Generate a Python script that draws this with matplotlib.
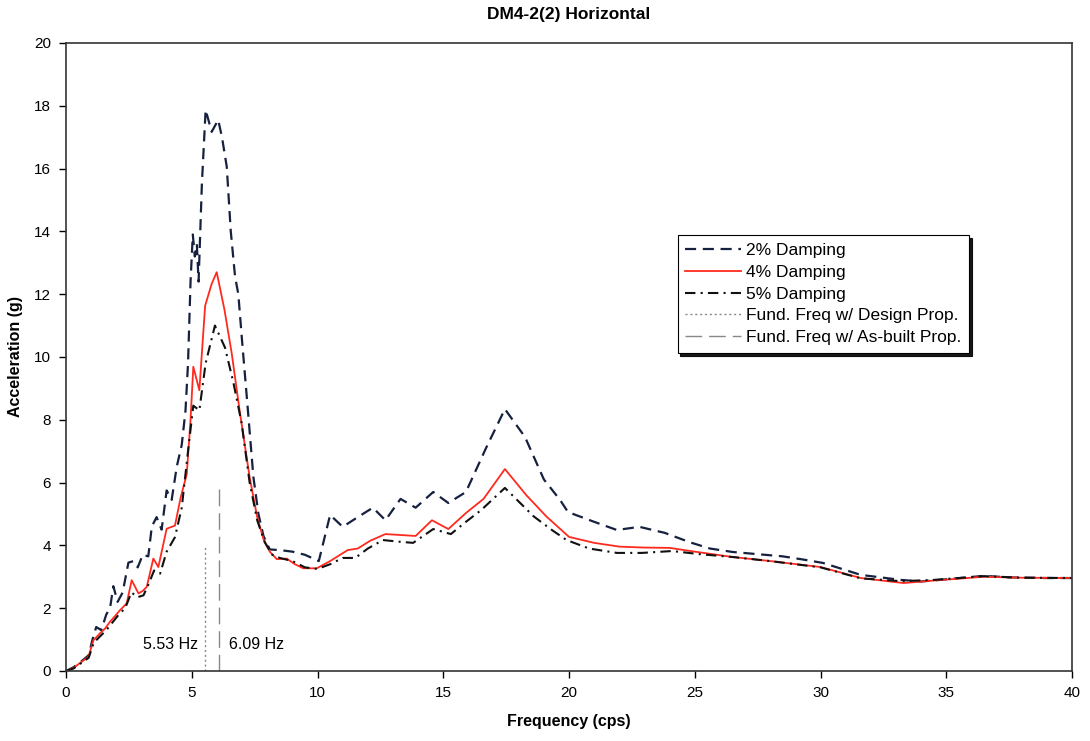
import matplotlib
matplotlib.use("Agg")
import matplotlib.pyplot as plt
from matplotlib import font_manager

# ---- data ----
freq_2 = [0, 0.3, 0.6, 0.9, 1.05, 1.2, 1.4, 1.6, 1.75, 1.88, 2.05, 2.25, 2.48, 2.68, 2.85,
          3.05, 3.27, 3.41, 3.6, 3.8, 4.0, 4.2, 4.4, 4.6, 4.75, 4.85, 4.95, 5.04, 5.12, 5.2,
          5.27, 5.4, 5.55, 5.79, 6.05, 6.2, 6.39, 6.55, 6.72, 6.85, 7.0, 7.2, 7.45, 7.65, 7.85,
          8.1, 8.5, 9.0, 9.5, 10.05, 10.5, 11.0, 11.6, 12.2, 12.7, 13.3, 13.9, 14.6, 15.2, 15.9,
          16.7, 17.45, 18.25, 19.0, 19.64, 19.96, 21.0, 21.9, 22.8, 23.8, 24.8, 25.6, 26.5, 27.5,
          28.5, 29.3, 30.1, 31.6, 33.2, 34.0, 35.0, 36.5, 37.5, 39.0, 40.0]
acc_2 = [0, 0.12, 0.3, 0.5, 1.0, 1.4, 1.3, 1.8, 2.0, 2.7, 2.2, 2.5, 3.45, 3.5, 3.3,
         3.7, 3.65, 4.6, 4.9, 4.5, 5.75, 5.45, 6.5, 7.2, 8.3, 9.8, 12.4, 13.9, 13.2, 13.6,
         12.4, 15.5, 17.87, 17.17, 17.55, 17.0, 16.06, 14.0, 12.56, 12.0, 10.5, 8.6, 6.17, 5.0, 4.3,
         3.87, 3.85, 3.8, 3.7, 3.5, 4.97, 4.59, 4.9, 5.2, 4.8, 5.48, 5.2, 5.7, 5.35, 5.7,
         7.1, 8.34, 7.45, 6.1, 5.45, 5.06, 4.75, 4.49, 4.59, 4.4, 4.1, 3.9, 3.79, 3.72,
         3.65, 3.55, 3.44, 3.06, 2.9, 2.85, 2.92, 3.03, 2.98, 2.96, 2.96]

freq_4 = [0, 0.3, 0.6, 0.89, 1.09, 1.35, 1.55, 1.75, 1.95, 2.15, 2.41, 2.61, 2.88, 3.05, 3.21,
          3.47, 3.67, 4.0, 4.33, 4.55, 4.8, 4.95, 5.06, 5.3, 5.53, 5.79, 5.99, 6.3, 6.59, 6.9,
          7.3, 7.6, 7.85, 8.1, 8.38, 8.77, 9.1, 9.43, 9.97, 10.5, 11.2, 11.6, 12.1, 12.7, 13.3,
          13.9, 14.55, 15.2, 15.9, 16.6, 17.45, 18.3, 19.1, 20.0, 21.0, 22.0, 23.0, 24.0, 25.0,
          26.5, 28.0, 30.0, 31.6, 33.3, 34.5, 36.5, 38.0, 40.0]
acc_4 = [0, 0.1, 0.28, 0.45, 0.98, 1.2, 1.35, 1.57, 1.75, 1.94, 2.15, 2.89, 2.47, 2.55, 2.68,
         3.58, 3.31, 4.53, 4.63, 5.5, 6.27, 8.0, 9.69, 8.94, 11.63, 12.33, 12.7, 11.5, 10.1, 8.3,
         6.17, 4.9, 4.2, 3.8, 3.56, 3.58, 3.4, 3.27, 3.27, 3.5, 3.85, 3.9, 4.15, 4.36, 4.33,
         4.3, 4.8, 4.52, 5.03, 5.48, 6.43, 5.6, 4.92, 4.27, 4.08, 3.96, 3.93, 3.92, 3.8,
         3.63, 3.5, 3.31, 2.96, 2.80, 2.88, 3.0, 2.97, 2.96]

freq_5 = [0, 0.3, 0.6, 0.9, 1.1, 1.35, 1.6, 1.85, 2.1, 2.35, 2.6, 2.85, 3.08, 3.3, 3.5,
          3.74, 4.0, 4.33, 4.6, 4.85, 5.06, 5.3, 5.55, 5.92, 6.32, 6.65, 6.98, 7.3, 7.6, 7.9,
          8.2, 8.5, 9.0, 9.5, 10.0, 10.5, 11.0, 11.5, 12.0, 12.6, 13.2, 13.8, 14.6, 15.3, 15.9,
          16.5, 17.45, 18.6, 19.3, 19.9, 20.8, 21.9, 22.9, 24.1, 25.2, 26.5, 28.0, 30.0, 31.6,
          33.2, 34.5, 36.5, 38.0, 40.0]
acc_5 = [0, 0.08, 0.25, 0.42, 0.9, 1.1, 1.3, 1.55, 1.8, 2.0, 2.5, 2.35, 2.41, 2.8, 3.2,
         3.1, 3.8, 4.26, 5.2, 7.0, 8.45, 8.3, 9.8, 11.0, 10.3, 9.2, 7.9, 6.0, 4.8, 4.1,
         3.7, 3.6, 3.5, 3.3, 3.25, 3.4, 3.6, 3.6, 3.9, 4.17, 4.12, 4.08, 4.52, 4.36, 4.75,
         5.12, 5.83, 4.92, 4.5, 4.17, 3.9, 3.76, 3.76, 3.82, 3.72, 3.63, 3.5, 3.3, 2.95,
         2.86, 2.9, 3.02, 2.97, 2.96]

fund_design = 5.53
fund_asbuilt = 6.09
fund_design_top = 4.0
fund_asbuilt_top = 6.0

# pick a narrow face for tick labels if there is one
names = {f.name for f in font_manager.fontManager.ttflist}
tick_font = "Liberation Sans Narrow" if "Liberation Sans Narrow" in names else "Liberation Sans"
plt.rcParams["font.family"] = ["Liberation Sans", "DejaVu Sans"]

fig = plt.figure(figsize=(10.9, 7.41), dpi=100)
ax = fig.add_axes([0.0606, 0.0945, 0.9229, 0.8475])

ax.plot(freq_2, acc_2, color="#16213f", lw=1.6, linestyle=(0, (5, 3)), label="2% Damping")
ax.plot(freq_4, acc_4, color="#ff2a1f", lw=1.3, label="4% Damping")
ax.plot(freq_5, acc_5, color="#111111", lw=1.5, linestyle=(0, (5, 2.5, 1, 2.5)), label="5% Damping")
ax.plot([fund_design, fund_design], [0, fund_design_top], color="#888888", lw=1.0,
        linestyle=(0, (1.5, 2)), label="Fund. Freq w/ Design Prop.")
ax.plot([fund_asbuilt, fund_asbuilt], [0, fund_asbuilt_top], color="#888888", lw=1.0,
        linestyle=(0, (12, 5)), label="Fund. Freq w/ As-built Prop.")

ax.text(fund_design - 0.3, 0.83, f"{fund_design:.2f} Hz", ha="right", va="center", fontsize=11.5)
ax.text(fund_asbuilt + 0.4, 0.83, f"{fund_asbuilt:.2f} Hz", ha="left", va="center", fontsize=11.5)

ax.set_xlim(0, 40)
ax.set_ylim(0, 20)
ax.set_xticks(range(0, 41, 5))
ax.set_yticks(range(0, 21, 2))
ax.tick_params(direction="out", length=5, width=1, labelsize=11, pad=6)
for lab in ax.get_xticklabels() + ax.get_yticklabels():
    lab.set_fontfamily(tick_font)
for sp in ax.spines.values():
    sp.set_linewidth(1.2)
    sp.set_color("#333333")

ax.set_title("DM4-2(2) Horizontal", fontsize=12.5, fontweight="bold", pad=17)
ax.set_xlabel("Frequency (cps)", fontsize=11.5, fontweight="bold", labelpad=10)
ax.set_ylabel("Acceleration (g)", fontsize=11.5, fontweight="bold", labelpad=8)

leg = ax.legend(loc="upper left", bbox_to_anchor=(0.608, 0.694), fontsize=12.5,
                frameon=True, fancybox=False, shadow={"color": "black", "alpha": 0.9},
                edgecolor="black", framealpha=1, handlelength=3.2, borderpad=0.45,
                labelspacing=0.38, handletextpad=0.3, borderaxespad=0)
leg.get_frame().set_linewidth(0.8)

fig.savefig("out.png", dpi=100)
